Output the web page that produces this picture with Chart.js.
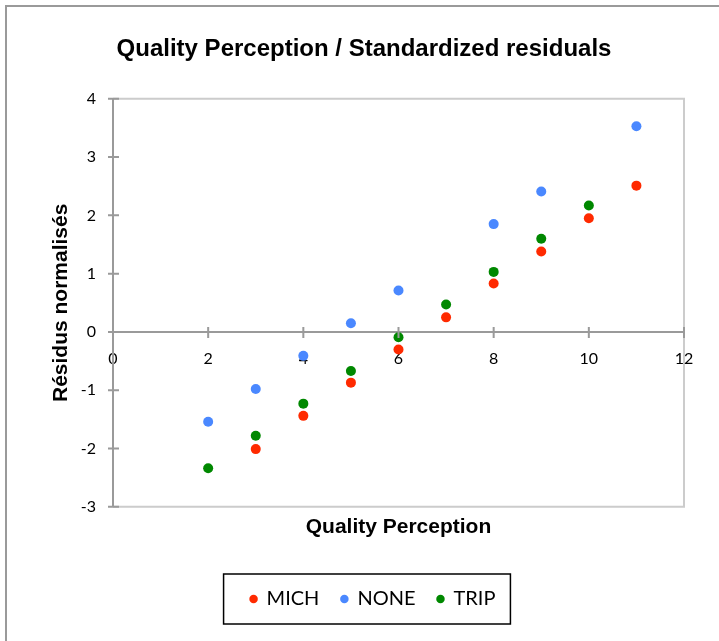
<!DOCTYPE html>
<html>
<head>
<meta charset="utf-8">
<script src="https://cdn.jsdelivr.net/npm/chart.js@4/dist/chart.umd.min.js"></script>
<style>
  html, body { margin: 0; padding: 0; background: #fff; }
  #wrap { width: 719px; height: 641px; position: relative; }
</style>
</head>
<body>
<div id="wrap"><canvas id="chart"></canvas></div>
<script>
// values
var michX = [3, 4, 5, 6, 7, 8, 9, 10, 11];
var michY = [-2.01, -1.44, -0.87, -0.30, 0.25, 0.83, 1.38, 1.95, 2.51];
var noneX = [2, 3, 4, 5, 6, 8, 9, 11];
var noneY = [-1.54, -0.98, -0.41, 0.15, 0.71, 1.85, 2.41, 3.53];
var tripX = [2, 3, 4, 5, 6, 7, 8, 9, 10];
var tripY = [-2.34, -1.78, -1.23, -0.67, -0.09, 0.47, 1.03, 1.60, 2.17];

var seriesNames = ["MICH", "NONE", "TRIP"];
var seriesColors = ["#ff2a00", "#4a88ff", "#008800"];

function pts(xs, ys) {
    return xs.map(function (x, i) { return { x: x, y: ys[i] }; });
}

var tickFont = { family: "Lato", size: 16 };
var titleFont = { family: "Liberation Sans", size: 21, weight: "bold" };
var legendShift = 9;

// outer frame, plot border and crossing tick marks
const decorPlugin = {
    id: "decor",
    afterUpdate: function (chart) {
        // nudge the legend a little to the right, like the original
        var lg = chart.legend;
        lg.left += legendShift;
        lg.right += legendShift;
        (lg.legendHitBoxes || []).forEach(function (b) { b.left += legendShift; });
    },
    beforeDraw: function (chart) {
        var ctx = chart.ctx;
        ctx.save();
        ctx.strokeStyle = "#9a9a9a";
        ctx.lineWidth = 2;
        ctx.beginPath();
        ctx.moveTo(6, 641);
        ctx.lineTo(6, 6);
        ctx.lineTo(719, 6);
        ctx.stroke();
        var a = chart.chartArea;
        ctx.strokeStyle = "#cccccc";
        ctx.beginPath();
        ctx.moveTo(a.left, a.top);
        ctx.lineTo(a.right, a.top);
        ctx.lineTo(a.right, a.bottom);
        ctx.lineTo(a.left, a.bottom);
        ctx.stroke();
        ctx.restore();
    },
    afterDraw: function (chart) {
        var ctx = chart.ctx;
        var xs = chart.scales.x, ys = chart.scales.y;
        var x0 = xs.getPixelForValue(0), y0 = ys.getPixelForValue(0);
        ctx.save();
        ctx.strokeStyle = "#9a9a9a";
        ctx.lineWidth = 2;
        ctx.beginPath();
        xs.ticks.forEach(function (t) {
            var px = xs.getPixelForValue(t.value);
            ctx.moveTo(px, y0 - 5);
            ctx.lineTo(px, y0 + 6);
        });
        ys.ticks.forEach(function (t) {
            var py = ys.getPixelForValue(t.value);
            ctx.moveTo(x0 - 5, py);
            ctx.lineTo(x0 + 6, py);
        });
        ctx.stroke();
        // legend frame
        var boxes = chart.legend.legendHitBoxes;
        if (boxes && boxes.length) {
            var first = boxes[0], last = boxes[boxes.length - 1];
            ctx.strokeStyle = "#000";
            ctx.lineWidth = 1.5;
            ctx.strokeRect(first.left - 27, first.top - 15,
                last.left + last.width - first.left + 42, first.height + 30);
        }
        ctx.restore();
    }
};

const config = {
    type: "scatter",
    data: {
        datasets: [
            { label: seriesNames[0], data: pts(michX, michY), backgroundColor: seriesColors[0], borderColor: seriesColors[0] },
            { label: seriesNames[1], data: pts(noneX, noneY), backgroundColor: seriesColors[1], borderColor: seriesColors[1] },
            { label: seriesNames[2], data: pts(tripX, tripY), backgroundColor: seriesColors[2], borderColor: seriesColors[2] }
        ]
    },
    options: {
        animation: false,
        responsive: true,
        maintainAspectRatio: false,
        elements: { point: { radius: 5, borderWidth: 0, hoverRadius: 5 } },
        layout: { padding: { top: 5, left: 44, right: 35, bottom: 22 } },
        scales: {
            x: {
                type: "linear",
                position: { y: 0 },
                min: 0, max: 12,
                grid: { display: false },
                border: { display: true, color: "#9a9a9a", width: 2 },
                ticks: { stepSize: 2, color: "#000", font: tickFont, padding: 9 }
            },
            x2: {
                type: "linear",
                position: "bottom",
                min: 0, max: 12,
                grid: { display: false },
                border: { display: false },
                ticks: { display: false },
                title: { display: true, text: "Quality Perception", color: "#000", font: titleFont, padding: { top: 0, bottom: 27 } }
            },
            y: {
                min: -3, max: 4,
                grid: { display: false, drawTicks: false },
                border: { display: true, color: "#9a9a9a", width: 2 },
                ticks: { stepSize: 1, color: "#000", font: tickFont, padding: 17 },
                title: { display: true, text: "Résidus normalisés", color: "#000", font: titleFont, padding: { top: 5, bottom: 5 } },
                afterFit: function (scale) { scale.width = 69; }
            }
        },
        plugins: {
            title: {
                display: true,
                text: "Quality Perception / Standardized residuals",
                color: "#000",
                font: { family: "Liberation Sans", size: 24, weight: "bold" },
                padding: { top: 30, bottom: 35 }
            },
            legend: {
                position: "bottom",
                labels: {
                    usePointStyle: true,
                    pointStyle: "circle",
                    boxWidth: 6,
                    boxHeight: 6,
                    color: "#000",
                    font: { family: "Lato", size: 20 },
                    padding: 22
                }
            },
            tooltip: { enabled: false }
        }
    },
    plugins: [decorPlugin]
};

const chart = new Chart(document.getElementById("chart"), config);
</script>
</body>
</html>
